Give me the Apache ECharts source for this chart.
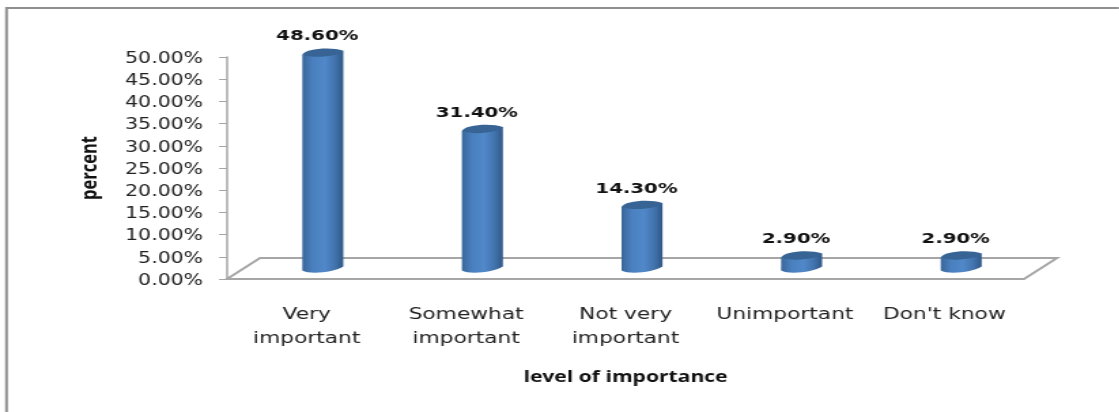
<!DOCTYPE html>
<html><head><meta charset="utf-8">
<style>html,body{margin:0;padding:0;background:#fff;overflow:hidden}#c{height:412px;transform-origin:0 0}</style>
<script src="https://cdn.jsdelivr.net/npm/echarts@6/dist/echarts.min.js"></script>
</head><body><div id="c"></div>
<script>
var categories = ['Very\nimportant','Somewhat\nimportant','Not very\nimportant','Unimportant',"Don't know"];
var values = [48.6,31.4,14.3,2.9,2.9];
var valueLabels = ['48.60%','31.40%','14.30%','2.90%','2.90%'];
// The reference is a horizontally stretched picture, so the chart is drawn narrower and stretched the same way.
var S = 1.36;
var el = document.getElementById('c');
el.style.width = (1119/S)+'px';
el.style.transform = 'scaleX('+S+')';
var chart = echarts.init(el);
function sx(v){return v/S;}
var BAR_W = sx(41), TILT = 2;
var DEPTH_X = sx(33), DEPTH_Y = 21;
function renderFloor(p, api){
  var c = p.coordSys, x0=c.x, x1=c.x+c.width, y=c.y+c.height;
  return {type:'polygon', silent:true, shape:{points:[[x0,y],[x1,y],[x1+DEPTH_X,y-DEPTH_Y],[x0+DEPTH_X,y-DEPTH_Y]]},
    style:{fill:'#fff',stroke:'#a6a6a6',lineWidth:2}};
}
function renderBar(p, api){
  var i = api.value(0), top = api.coord([i, api.value(1)]), base = api.coord([i, 0]);
  var cx = top[0], l = cx-BAR_W/2, r = cx+BAR_W/2, ty = top[1], by = base[1];
  var grad = new echarts.graphic.LinearGradient(0,0,1,0,[
    {offset:0,color:'#3a6699'},{offset:0.25,color:'#4a80bf'},{offset:0.55,color:'#5088c9'},{offset:0.8,color:'#4273ad'},{offset:1,color:'#2f5886'}]);
  var w = r-l;
  var body = 'M'+l+' '+(ty+TILT)+' L'+l+' '+(by+TILT)
    +' C'+(l+w*0.2)+' '+(by+TILT+4.5)+' '+(l+w*0.8)+' '+(by+3.5)+' '+r+' '+(by-TILT)
    +' L'+r+' '+(ty-TILT)+' Z';
  return {type:'group',children:[
    {type:'path',silent:true,shape:{pathData:body},style:{fill:grad}},
    {type:'path',silent:true,shape:{pathData:'M'+l+' '+(ty+TILT)+' C'+(l+w*0.05)+' '+(ty-4)+' '+(l+w*0.7)+' '+(ty-6.5)+' '+r+' '+(ty-TILT)
      +' C'+(l+w*0.95)+' '+(ty+3)+' '+(l+w*0.3)+' '+(ty+6.5)+' '+l+' '+(ty+TILT)+' Z'},style:{fill:'#376495'}},
    {type:'text',silent:true,style:{text:valueLabels[p.dataIndex],x:cx-sx(5.5),y:ty-16,align:'center',verticalAlign:'middle',
      font:'bold 14.5px "DejaVu Sans"',fill:'#111'}}
  ]};
}
chart.setOption({
  animation:false,
  backgroundColor:'#fff',
  graphic:[{type:'polyline',silent:true,shape:{points:[[sx(6.5),412],[sx(6.5),8],[1119/S,8]]},style:{fill:'none',stroke:'#8f8f8f',lineWidth:2}}],
  grid:[{left:sx(227),width:sx(797),top:57,height:222},{left:sx(243),width:sx(798),top:46.5,height:222}],
  xAxis:[
    {type:'category',gridIndex:0,data:categories,
     axisTick:{show:false},axisLine:{show:false},
     axisLabel:{interval:0,margin:24,color:'#222',fontSize:16,lineHeight:24,fontFamily:'DejaVu Sans'},
     name:'level of importance',nameLocation:'middle',nameGap:91,
     nameTextStyle:{fontWeight:'bold',fontSize:15.5,color:'#111',fontFamily:'Open Sans'}},
    {type:'category',gridIndex:1,data:categories,show:false}
  ],
  yAxis:[
    {type:'value',gridIndex:0,min:0,max:50,interval:5,
     axisLine:{show:true,lineStyle:{color:'#a6a6a6',width:1.5}},
     axisTick:{show:true,length:sx(8),lineStyle:{color:'#a6a6a6',width:1}},
     splitLine:{show:false},
     axisLabel:{margin:sx(24),verticalAlign:'top',lineHeight:4,color:'#222',fontSize:15,fontFamily:'DejaVu Sans',formatter:function(v){return v.toFixed(2)+'%';}},
     name:'percent',nameLocation:'middle',nameGap:sx(125),nameRotate:90,
     nameTextStyle:{fontWeight:'bold',fontSize:16.5,color:'#111',fontFamily:'Open Sans'}},
    {type:'value',gridIndex:1,min:0,max:50,interval:5,show:false}
  ],
  series:[
    {type:'custom',xAxisIndex:0,yAxisIndex:0,renderItem:renderFloor,data:[[0,0]],z:1,silent:true},
    {type:'custom',xAxisIndex:1,yAxisIndex:1,renderItem:renderBar,z:3,silent:true,
     encode:{x:0,y:1},data:values.map(function(v,i){return [i,v];})}
  ]
});
</script></body></html>
